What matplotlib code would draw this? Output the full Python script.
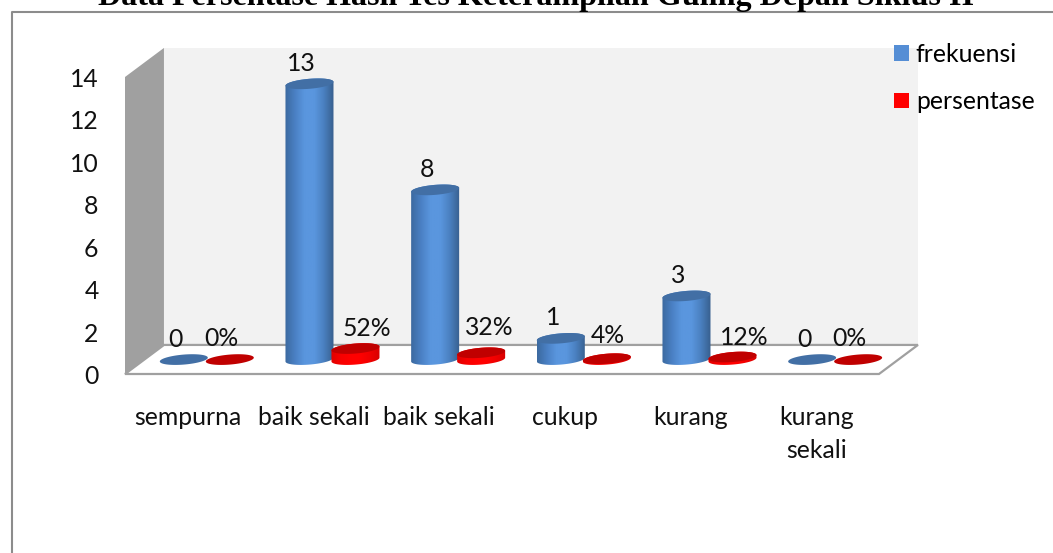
import numpy as np
import matplotlib
matplotlib.use("Agg")
import matplotlib.pyplot as plt
from matplotlib.colors import LinearSegmentedColormap
from matplotlib.lines import Line2D
from matplotlib.patches import Patch, Polygon
from matplotlib.transforms import ScaledTranslation

categories = ["sempurna", "baik sekali", "baik sekali", "cukup", "kurang", "kurang\nsekali"]
frekuensi = [0, 13, 8, 1, 3, 0]
persentase = [0.0, 0.52, 0.32, 0.04, 0.12, 0.0]
freq_labels = ["0", "13", "8", "1", "3", "0"]
pct_labels = ["0%", "52%", "32%", "4%", "12%", "0%"]
yticks = [0, 2, 4, 6, 8, 10, 12, 14]
title = "Data Persentase Hasil Tes Keterampilan Guling Depan Siklus II"

plt.rcParams["font.family"] = ["Lato", "DejaVu Sans"]
W, H = 1053, 553
FS = 17.8
fig = plt.figure(figsize=(W / 100, H / 100), dpi=100)
ax = fig.add_axes([125 / W, (H - 374) / H, 754 / W, 297 / H])
ax.set_xlim(-0.5, 5.5)
ax.set_ylim(0, 14)
for s in ax.spines.values():
    s.set_visible(False)
ax.patch.set_visible(False)

# 3d look, all in data units
depth_x = 0.31
depth_y = 1.37
base_x = 0.151
base_y = 0.68
half_gap = 0.183
a = 0.191   # ellipse half width
b = 0.236   # ellipse half height
k = 0.09    # ellipse tilt

# walls + floor
ax.add_patch(Polygon([(-0.5 + depth_x, depth_y), (5.5 + depth_x, depth_y),
                      (5.5 + depth_x, 14 + depth_y), (-0.5 + depth_x, 14 + depth_y)],
                     fc="#f2f2f2", ec="none", clip_on=False, zorder=1))
ax.add_patch(Polygon([(-0.5, 0), (-0.5 + depth_x, depth_y), (-0.5 + depth_x, 14 + depth_y), (-0.5, 14)],
                     fc="#a0a0a0", ec="none", clip_on=False, zorder=1))
ax.add_patch(Polygon([(-0.5, 0), (-0.5 + depth_x, depth_y), (5.5 + depth_x, depth_y), (5.5, 0)],
                     fc="white", ec="#a0a0a0", lw=1.6, clip_on=False, zorder=1))

blue_cmap = LinearSegmentedColormap.from_list("b", ["#3c6aa0", "#4a80c4", "#5a96de", "#5a96de", "#4a80c0", "#38608f"])
red_cmap = LinearSegmentedColormap.from_list("r", ["#e00000", "#f80000", "#ff0000", "#ff0000", "#f00000", "#d80000"])
shade = np.linspace(0, 1, 64).reshape(1, -1)


def ellipse_pts(cx, cy, t):
    return np.column_stack([cx + a * np.cos(t), cy + b * np.sin(t) + k * np.cos(t)])


def cylinder(cx, val, cmap, top_color, z):
    t_all = np.linspace(0, 2 * np.pi, 80)
    if val > 0:
        lower = ellipse_pts(cx, base_y, np.linspace(np.pi, 2 * np.pi, 40))
        upper = ellipse_pts(cx, base_y + val, np.linspace(0, np.pi, 40))
        body = Polygon(np.vstack([lower, upper]), fc="none", ec="none", transform=ax.transData)
        ax.add_patch(body)
        im = ax.imshow(shade, cmap=cmap, aspect="auto", zorder=z, interpolation="bilinear",
                       extent=(cx - a, cx + a, base_y - b - k, base_y + val + b + k))
        im.set_clip_path(body)
        im.set_clip_box(fig.bbox)
    ax.add_patch(Polygon(ellipse_pts(cx, base_y + val, t_all), fc=top_color, ec="none",
                         zorder=z + 0.1, clip_on=False))


for i in range(len(categories)):
    cylinder(i + base_x - half_gap, frekuensi[i], blue_cmap, "#426fa5", 3 + i)
    cylinder(i + base_x + half_gap, persentase[i], red_cmap, "#c00000", 3.5 + i)

ax.set_xlim(-0.5, 5.5)
ax.set_ylim(0, 14)

# data labels, shifted by hand like in the original chart (pixels)
freq_shift = [-8, -8, -8, -8, -8, -8]
pct_shift = [-8, 11, 8, 1, 12, -9]
pct_up = [21, 20, 25, 23, 20, 21]
for i in range(len(categories)):
    ax.annotate(freq_labels[i], (i + base_x - half_gap, base_y + frekuensi[i]),
                xytext=(freq_shift[i] * 0.72, 20.5 * 0.72), textcoords="offset points",
                ha="center", va="center", fontsize=FS, color="#111111", zorder=20, annotation_clip=False)
    ax.annotate(pct_labels[i], (i + base_x + half_gap, base_y + persentase[i]),
                xytext=(pct_shift[i] * 0.72, pct_up[i] * 0.72), textcoords="offset points",
                ha="center", va="center", fontsize=FS, color="#111111", zorder=20, annotation_clip=False)

ax.set_yticks(yticks)
ax.set_xticks(range(len(categories)))
ax.set_xticklabels(categories, fontsize=FS, color="#111111", linespacing=1.55)
ax.tick_params(axis="y", length=0, pad=19, labelsize=FS, labelcolor="#111111")
ax.tick_params(axis="x", length=0, pad=23)
# tick numbers sit a bit lower than matplotlib centres them
for lab in ax.get_yticklabels():
    lab.set_transform(lab.get_transform() + ScaledTranslation(0, -0.4 / 72, fig.dpi_scale_trans))

handles = [Patch(fc="#558ed5", ec="none"), Patch(fc="#ff0000", ec="none")]
fig.legend(handles, ["frekuensi", "persentase"], loc="upper left", bbox_to_anchor=(894 / W, 1 - 42.5 / H),
           frameon=False, fontsize=FS, handlelength=0.61, handleheight=0.61, handletextpad=0.27,
           labelspacing=1.0, borderpad=0, borderaxespad=0)

# outer frame, only top and left show
fig.add_artist(Line2D([11.5 / W, 11.5 / W, 1], [0, 1 - 12 / H, 1 - 12 / H], color="#8c8c8c", lw=1.5))
fig.text(536 / W, 1 - 5 / H, title, family="Liberation Serif", weight="bold", fontsize=23.1,
         ha="center", va="baseline", color="black")

fig.savefig("out.png", dpi=100)
